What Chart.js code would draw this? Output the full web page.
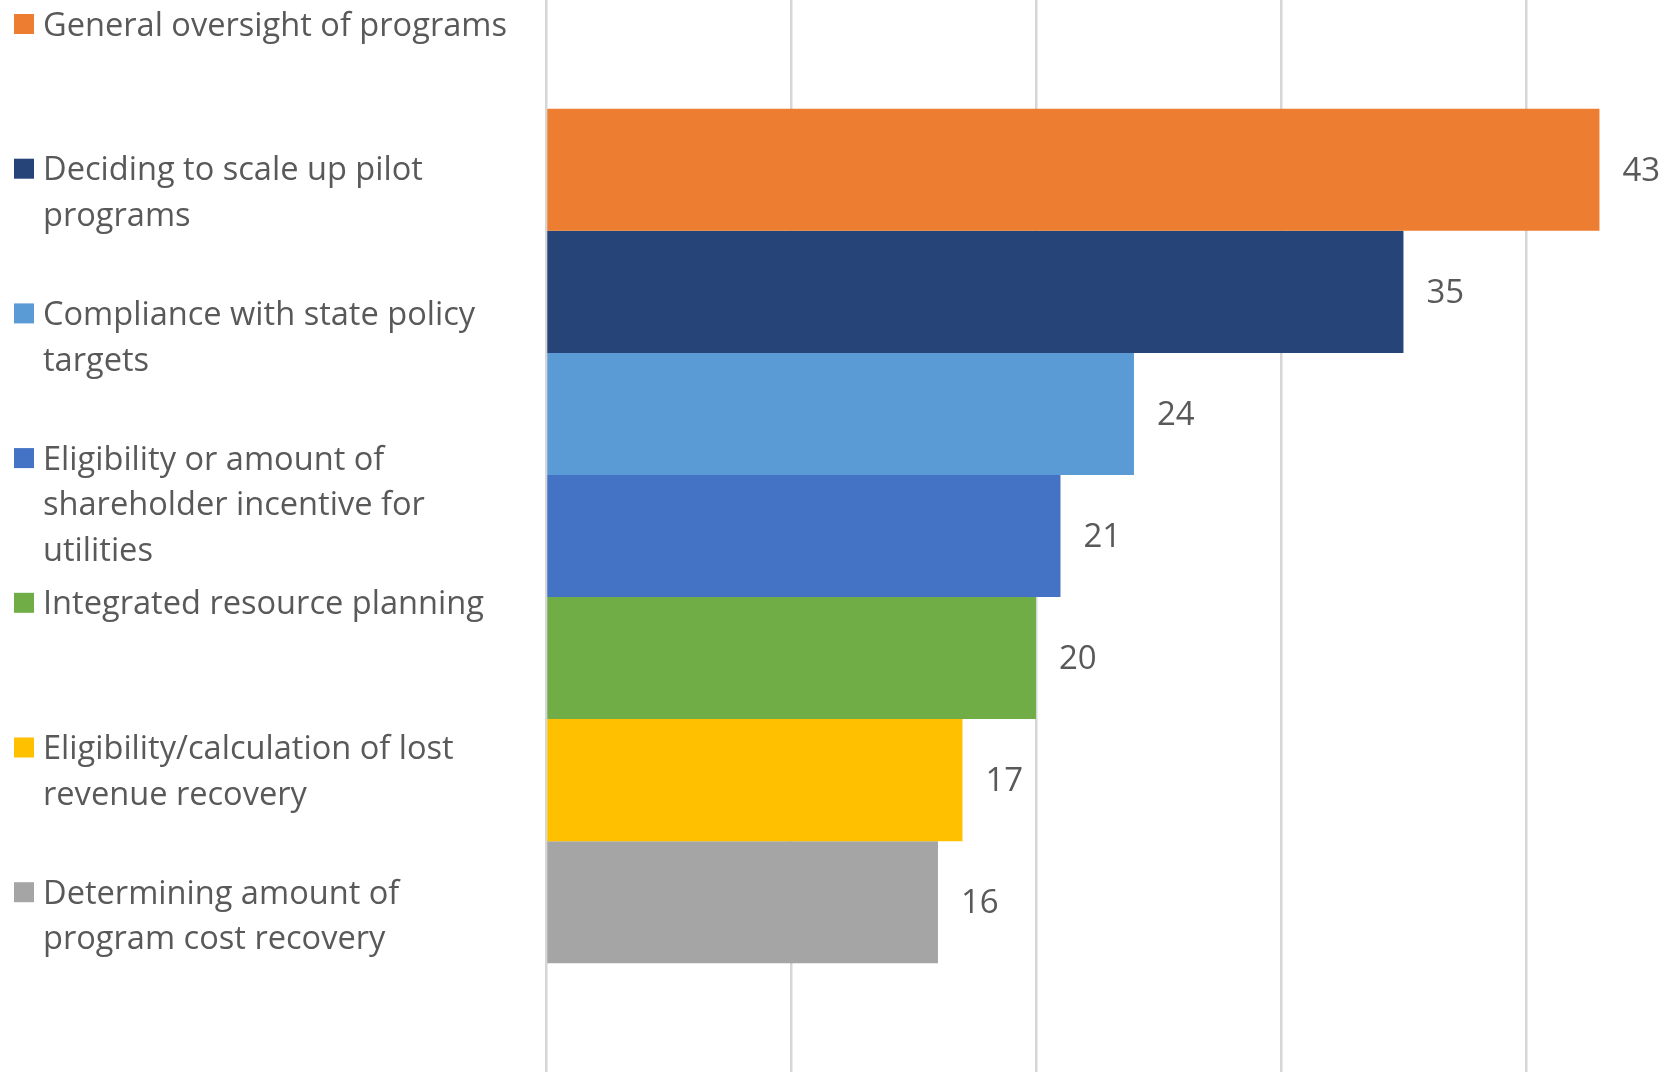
<!DOCTYPE html>
<html>
<head>
<meta charset="utf-8">
<script src="https://cdn.jsdelivr.net/npm/chart.js@4.4.1/dist/chart.umd.min.js"></script>
<style>
  html, body { margin: 0; padding: 0; background: #ffffff; overflow: hidden; }
  canvas { display: block; }
</style>
</head>
<body>
<canvas id="c" width="1670" height="1072"></canvas>
<script>
// ---- data ----
const categories = ['Topics'];
const seriesNames = [
  'General oversight of programs',
  'Deciding to scale up pilot programs',
  'Compliance with state policy targets',
  'Eligibility or amount of shareholder incentive for utilities',
  'Integrated resource planning',
  'Eligibility/calculation of lost revenue recovery',
  'Determining amount of program cost recovery'
];
const legendLines = [
  ['General oversight of programs'],
  ['Deciding to scale up pilot', 'programs'],
  ['Compliance with state policy', 'targets'],
  ['Eligibility or amount of', 'shareholder incentive for', 'utilities'],
  ['Integrated resource planning'],
  ['Eligibility/calculation of lost', 'revenue recovery'],
  ['Determining amount of', 'program cost recovery']
];
const seriesValues = [43, 35, 24, 21, 20, 17, 16];
const gridTicks = [0, 10, 20, 30, 40];
const seriesColors = ['#ED7D31', '#264478', '#5B9BD5', '#4472C4', '#70AD47', '#FFC000', '#A5A5A5'];

// ---- style constants ----
const TEXT_COLOR = '#595959';
const LEGEND_FONT = '32.6px "Open Sans"';
const LABEL_FONT = '33px "Open Sans"';

const datasets = seriesNames.map((name, i) => ({
  label: name,
  legendLines: legendLines[i],
  data: [seriesValues[i]],
  backgroundColor: seriesColors[i],
  borderWidth: 0,
  barPercentage: 1.0,
  categoryPercentage: 0.797
}));

const leftLegend = {
  id: 'leftLegend',
  afterDraw(chart) {
    const ctx = chart.ctx;
    ctx.save();
    ctx.font = LEGEND_FONT;
    ctx.textBaseline = 'alphabetic';
    ctx.textAlign = 'left';
    chart.data.datasets.forEach((ds, i) => {
      const cy = 24 + 144.7 * i;
      ctx.fillStyle = ds.backgroundColor;
      ctx.fillRect(14, cy - 10, 20, 20);
      ctx.fillStyle = TEXT_COLOR;
      ds.legendLines.forEach((line, j) => {
        ctx.fillText(line, 43, cy + 11.6 + j * 45.5);
      });
    });
    ctx.restore();
  }
};

const valueLabels = {
  id: 'valueLabels',
  afterDatasetsDraw(chart) {
    const ctx = chart.ctx;
    ctx.save();
    ctx.font = LABEL_FONT;
    ctx.fillStyle = TEXT_COLOR;
    ctx.textBaseline = 'alphabetic';
    ctx.textAlign = 'left';
    chart.data.datasets.forEach((ds, i) => {
      const bar = chart.getDatasetMeta(i).data[0];
      ctx.fillText(String(ds.data[0]), bar.x + 23, bar.y - 1 + 11.8);
    });
    ctx.restore();
  }
};

new Chart(document.getElementById('c'), {
  type: 'bar',
  data: { labels: categories, datasets },
  options: {
    indexAxis: 'y',
    responsive: false,
    animation: false,
    events: [],
    layout: { padding: { left: 546, top: 0, right: 0, bottom: 0 } },
    plugins: { legend: { display: false }, tooltip: { enabled: false } },
    scales: {
      x: {
        min: 0,
        max: 45.88,
        position: 'bottom',
        afterBuildTicks: (scale) => {
          scale.ticks = gridTicks.map(v => ({ value: v }));
        },
        ticks: { display: false },
        grid: { color: '#d6d6d6', lineWidth: 2.5, drawTicks: false, tickLength: 0 },
        border: { display: false }
      },
      y: { display: false }
    }
  },
  plugins: [leftLegend, valueLabels]
});
</script>
</body>
</html>
